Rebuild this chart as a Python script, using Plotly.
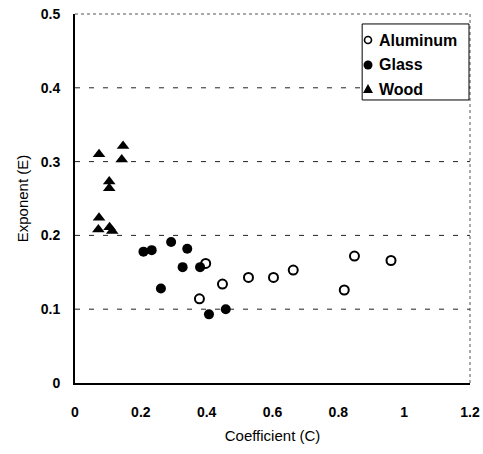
import plotly.graph_objects as go

alum_c = [0.397, 0.448, 0.378, 0.527, 0.603, 0.663, 0.849, 0.818, 0.960]
alum_e = [0.162, 0.134, 0.114, 0.143, 0.143, 0.153, 0.172, 0.126, 0.166]

glass_c = [0.208, 0.233, 0.292, 0.341, 0.327, 0.380, 0.261, 0.407, 0.458]
glass_e = [0.178, 0.180, 0.191, 0.182, 0.157, 0.157, 0.128, 0.093, 0.100]

wood_c = [0.073, 0.146, 0.142, 0.104, 0.104, 0.073, 0.071, 0.105, 0.113]
wood_e = [0.310, 0.321, 0.303, 0.273, 0.264, 0.224, 0.208, 0.211, 0.206]

series_names = ["Aluminum", "Glass", "Wood"]
x_ticks = [0, 0.2, 0.4, 0.6, 0.8, 1, 1.2]
x_ticktext = ["0", "0.2", "0.4", "0.6", "0.8", "1", "1.2"]
y_ticks = [0, 0.1, 0.2, 0.3, 0.4, 0.5]
y_ticktext = ["0", "0.1", "0.2", "0.3", "0.4", "0.5"]

FONT = "Liberation Sans, Arial, Helvetica, sans-serif"

fig = go.Figure()
fig.add_trace(go.Scatter(x=alum_c, y=alum_e, mode="markers", name=series_names[0], cliponaxis=False,
                         marker=dict(symbol="circle", size=9, color="white",
                                     line=dict(color="black", width=2))))
fig.add_trace(go.Scatter(x=glass_c, y=glass_e, mode="markers", name=series_names[1], cliponaxis=False,
                         marker=dict(symbol="circle", size=10, color="black",
                                     line=dict(color="black", width=0))))
fig.add_trace(go.Scatter(x=wood_c, y=wood_e, mode="markers", name=series_names[2], cliponaxis=False,
                         marker=dict(symbol="triangle-up", size=11, color="black",
                                     line=dict(color="black", width=0))))

shapes = []
# dashed gridlines
for yv in y_ticks[1:-1]:
    shapes.append(dict(type="line", xref="paper", x0=0, x1=1, yref="y", y0=yv, y1=yv,
                       line=dict(color="#222", width=1, dash="5px,9px"), layer="below"))
# dotted top and right borders
shapes.append(dict(type="line", xref="paper", x0=0, x1=1, yref="paper", y0=1, y1=1,
                   line=dict(color="#555", width=1, dash="dot")))
shapes.append(dict(type="line", xref="paper", x0=1, x1=1, yref="paper", y0=0, y1=1,
                   line=dict(color="#555", width=1, dash="dot")))

# manual legend box (paper coordinates)
lx0, lx1, ly0, ly1 = 0.727, 0.9975, 0.767, 0.973
shapes.append(dict(type="rect", xref="paper", yref="paper", x0=lx0, x1=lx1, y0=ly0, y1=ly1,
                   line=dict(color="black", width=1), fillcolor="white", layer="above"))
sym_x = 0.7418
text_x = 0.765
entry_y = [0.9295, 0.8618, 0.7967]
# legend symbols (pixel-sized shapes anchored in paper coordinates)
shapes.append(dict(type="circle", xref="paper", yref="paper", xsizemode="pixel", ysizemode="pixel",
                   xanchor=sym_x, yanchor=entry_y[0], x0=-3.5, x1=3.5, y0=-3.5, y1=3.5,
                   line=dict(color="black", width=1.6), fillcolor="white", layer="above"))
shapes.append(dict(type="circle", xref="paper", yref="paper", xsizemode="pixel", ysizemode="pixel",
                   xanchor=sym_x, yanchor=entry_y[1], x0=-4.5, x1=4.5, y0=-4.5, y1=4.5,
                   line=dict(color="black", width=0), fillcolor="black", layer="above"))
shapes.append(dict(type="path", xref="paper", yref="paper", xsizemode="pixel", ysizemode="pixel",
                   xanchor=sym_x, yanchor=entry_y[2], path="M-5,-4 L5,-4 L0,5 Z",
                   line=dict(color="black", width=0), fillcolor="black", layer="above"))

annotations = []
for name, yy in zip(series_names, entry_y):
    annotations.append(dict(xref="paper", yref="paper", x=text_x, y=yy, text=name,
                            showarrow=False, xanchor="left", yanchor="middle",
                            font=dict(family=FONT, size=16, color="black", weight="bold")))

fig.update_layout(
    width=483, height=454,
    margin=dict(l=75, r=13, t=14, b=71, autoexpand=False),
    paper_bgcolor="white", plot_bgcolor="white",
    font=dict(family=FONT, color="black", size=12),
    showlegend=False,
    shapes=shapes,
    annotations=annotations,
    xaxis=dict(range=[0, 1.2], tickvals=x_ticks, ticktext=x_ticktext,
               showgrid=False, zeroline=False, showline=True, linecolor="black", linewidth=2,
               ticks="", ticklabelstandoff=15, automargin=False, ticklabeloverflow="allow",
               tickfont=dict(size=14, color="black", weight="bold"),
               title=dict(text="Coefficient (C)", font=dict(size=15, color="black"), standoff=12)),
    yaxis=dict(range=[0, 0.5], tickvals=y_ticks, ticktext=y_ticktext,
               showgrid=False, zeroline=False, showline=True, linecolor="black", linewidth=2,
               ticks="", ticklabelstandoff=10, automargin=False, ticklabeloverflow="allow",
               tickfont=dict(size=14, color="black", weight="bold"),
               title=dict(text="Exponent (E)", font=dict(size=15, color="black"), standoff=8)),
)

fig.write_html("out.html", config={"displayModeBar": False},
               post_script="document.body.style.margin='0';document.body.style.overflow='hidden';")
